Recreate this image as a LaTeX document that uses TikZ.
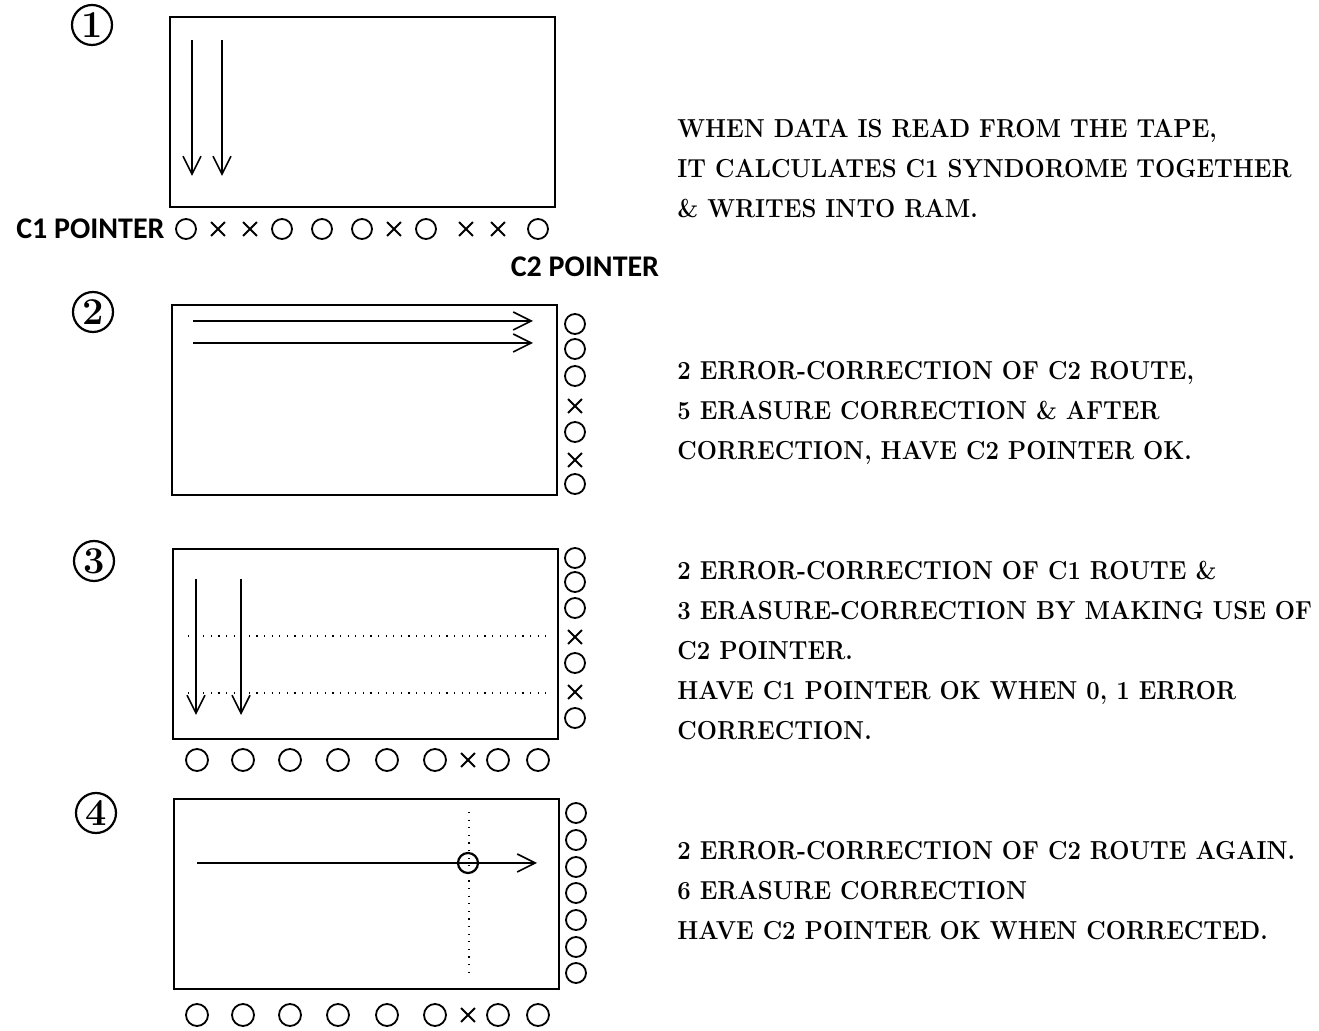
\documentclass[tikz,border=0pt]{standalone}
\usepackage{fontspec}
\newfontfamily\ptrfont{Carlito}
\newfontfamily\descfont[FakeStretch=0.92]{Latin Modern Roman}
\usetikzlibrary{arrows.meta,shapes.misc}
\tikzset{ram/.style={draw,line width=1pt,minimum width=192.5pt,minimum height=95pt,inner sep=0pt}, good/.style={circle,draw,line width=0.9pt,minimum size=10pt,inner sep=0pt}, bad/.style={cross out,draw,line width=0.9pt,minimum size=6pt,inner sep=0pt}, stepno/.style={circle,draw,line width=1.1pt,minimum size=20pt,inner sep=0pt,font=\fontsize{19}{19}\selectfont\bfseries}, route/.style={-{Straight Barb[length=9pt,width=9pt]},line width=0.8pt}, guide/.style={line width=0.6pt,dash pattern=on 0.6pt off 3.2pt}, ptr/.style={font=\ptrfont\bfseries\fontsize{15}{15}\selectfont,inner sep=0pt}, desc/.style={anchor=north west,align=left,inner sep=0pt,font=\descfont\fontsize{13}{20}\selectfont\bfseries}}
\begin{document}
\begin{tikzpicture}[x=0.5pt,y=-0.5pt]
\useasboundingbox (0,0) rectangle (1319,1031);
% step numbers
\node[stepno] (n1) at (92,25) {1};
\node[stepno] (n2) at (93,312) {2};
\node[stepno] (n3) at (94,561) {3};
\node[stepno] (n4) at (96,813) {4};
% RAM maps
\node[ram] (r1) at (362.5,112) {};
\node[ram] (r2) at (364,400.5) {};
\node[ram] (r3) at (365.5,644) {};
\node[ram] (r4) at (366.5,894) {};
% step 1
\draw[route] (192,40) -- (192,176);\draw[route] (222,40) -- (222,176);
\node[ptr,anchor=east] (c1lbl) at (165,229) {C1 POINTER};
\foreach \x/\s [count=\i] in {186/good,218/bad,250/bad,282/good,322/good,362/good,394/bad,426/good,466/bad,498/bad,538/good}
  \node[\s] (a\i) at (\x,229) {};
\node[ptr] (c2lbl) at (585,267) {C2 POINTER};
% step 2
\draw[route] (193,321) -- (533,321);\draw[route] (193,343) -- (533,343);
\foreach \y/\s [count=\i] in {324/good,349/good,376/good,406/bad,432/good,460/bad,484/good}
  \node[\s] (b\i) at (575,\y) {};
% step 3
\draw[guide] (188,636) -- (552,636);\draw[guide] (188,693) -- (552,693);
\draw[route] (196,579) -- (196,715);\draw[route] (241,579) -- (241,715);
\foreach \y/\s [count=\i] in {558/good,582/good,608/good,637/bad,663/good,692/bad,718/good}
  \node[\s] (c\i) at (575,\y) {};
\foreach \x in {197,243,290,338,387,435,498,538}
  \node[good,minimum size=11pt] (d\x) at (\x,760) {};
\node[bad] (d468) at (468,760) {};
% step 4
\draw[guide] (469,812) -- (469,975);
\draw[route] (197,863) -- (537,863);
\node[good,line width=1.1pt] (hit) at (468,863) {};
\foreach \y [count=\i] in {813,840,867,893,920,947,973}
  \node[good] (e\i) at (576,\y) {};
\foreach \x in {197,243,290,338,387,435,498,538}
  \node[good,minimum size=11pt] (f\x) at (\x,1015) {};
\node[bad] (f468) at (468,1015) {};
% descriptions
\node[desc] (t1) at (677,119) {WHEN DATA IS READ FROM THE TAPE,\\IT CALCULATES C1 SYNDOROME TOGETHER\\\& WRITES INTO RAM.};
\node[desc] (t2) at (677,361) {2 ERROR-CORRECTION OF C2 ROUTE,\\5 ERASURE CORRECTION \& AFTER\\CORRECTION, HAVE C2 POINTER OK.};
\node[desc] (t3) at (677,561) {2 ERROR-CORRECTION OF C1 ROUTE \&\\3 ERASURE-CORRECTION BY MAKING USE OF\\C2 POINTER.\\HAVE C1 POINTER OK WHEN 0, 1 ERROR\\CORRECTION.};
\node[desc] (t4) at (677,841) {2 ERROR-CORRECTION OF C2 ROUTE AGAIN.\\6 ERASURE CORRECTION\\HAVE C2 POINTER OK WHEN CORRECTED.};
\end{tikzpicture}
\end{document}
